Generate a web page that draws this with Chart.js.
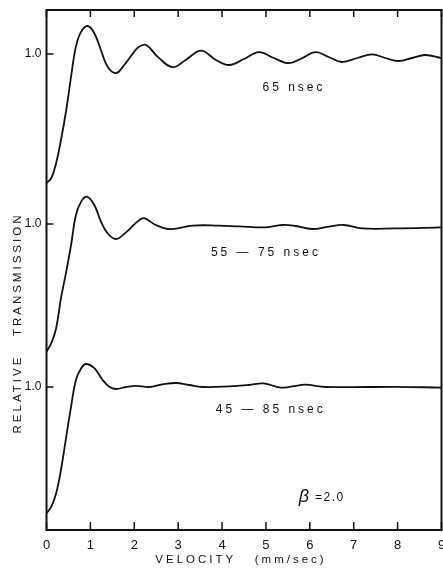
<!DOCTYPE html>
<html><head><meta charset="utf-8">
<script src="https://cdn.jsdelivr.net/npm/chart.js@4/dist/chart.umd.min.js"></script>
<style>html,body{margin:0;padding:0;background:#fff;overflow:hidden}</style>
</head><body>
<canvas id="c" width="443" height="571" style="display:block;width:443px;height:571px"></canvas>
<script>
// ---- data (relative transmission vs velocity, mm/sec) ----
const velocity65 = [0,0.11,0.22,0.33,0.45,0.56,0.67,0.79,0.94,1.09,1.24,1.39,1.58,1.77,1.96,2.1,2.27,2.53,2.87,3.17,3.52,3.86,4.16,4.5,4.84,5.18,5.52,5.83,6.13,6.43,6.73,7.08,7.42,7.72,8.02,8.33,8.63,9.0];
const trans65    = [0.354,0.38,0.455,0.57,0.72,0.887,1.037,1.112,1.14,1.104,1.02,0.937,0.904,0.945,1.0,1.035,1.045,0.987,0.934,0.97,1.017,0.97,0.945,0.975,1.009,0.98,0.954,0.98,1.009,0.985,0.96,0.98,0.998,0.98,0.965,0.98,0.995,0.979];

const velocity55 = [0,0.11,0.22,0.33,0.45,0.56,0.67,0.79,0.92,1.09,1.24,1.39,1.58,1.81,2.0,2.12,2.23,2.49,2.83,3.33,3.93,4.39,5.0,5.37,5.67,6.05,6.43,6.77,7.19,7.95,9.0];
const trans55    = [0.362,0.404,0.479,0.629,0.762,0.895,1.045,1.112,1.137,1.095,1.012,0.954,0.925,0.958,0.998,1.02,1.029,0.995,0.974,0.992,0.992,0.988,0.983,0.995,0.99,0.975,0.987,0.995,0.978,0.978,0.983];

const velocity45 = [0,0.11,0.22,0.33,0.45,0.56,0.67,0.79,0.90,1.09,1.28,1.43,1.58,1.81,2.04,2.34,2.64,2.95,3.25,3.55,4.16,4.61,4.95,5.33,5.6,5.9,6.36,7.95,9.0];
const trans45    = [0.369,0.402,0.469,0.585,0.752,0.902,1.035,1.094,1.115,1.094,1.035,1.0015,0.99,1.0,1.006,1.0,1.013,1.02,1.01,1.0,1.003,1.01,1.018,0.997,1.003,1.012,1.0,1.001,0.997];

const curveLabels  = ['65 nsec', '55 \u2014 75 nsec', '45 \u2014 85 nsec'];
const curveOffsets = [1.38, 0.53, -0.285];   // vertical stacking of the three curves
const xTickValues  = [0,1,2,3,4,5,6,7,8,9];
const yTickLabel   = '1.0';
const betaLabel    = '=2.0';

// ---- layout/style (not data) ----
const INK = '#111';
const FONT = '"Liberation Sans", Arial, sans-serif';
const labelPos = [{v:5.64, y:2.21}, {v:5.0, y:1.385}, {v:5.11, y:0.60}];
const betaPos = {v:5.75, y:0.165};

function series(vs, ts, off){ return vs.map((v,i)=>({x:v, y:ts[i]+off})); }

const datasets = [
  [velocity65, trans65],
  [velocity55, trans55],
  [velocity45, trans45]
].map((p,i)=>({
  label: curveLabels[i],
  data: series(p[0], p[1], curveOffsets[i]),
  borderColor: INK, borderWidth: 1.8, pointRadius: 0,
  tension: 0.4, fill: false, clip: false
}));

const framePlugin = {
  id: 'frame',
  afterDatasetsDraw(chart){
    const {ctx, chartArea: a, scales: {x, y}} = chart;
    ctx.save();
    ctx.strokeStyle = INK;
    ctx.lineWidth = 2;
    ctx.strokeRect(a.left, a.top, a.right - a.left, a.bottom - a.top);
    ctx.lineWidth = 1.5;
    ctx.beginPath();
    xTickValues.forEach(v=>{
      const px = x.getPixelForValue(v);
      ctx.moveTo(px, a.bottom); ctx.lineTo(px, a.bottom - 8);
      ctx.moveTo(px, a.top); ctx.lineTo(px, a.top + 7);
    });
    y.ticks.forEach(t=>{
      const py = y.getPixelForValue(t.value);
      ctx.moveTo(a.left, py); ctx.lineTo(a.left + 7, py);
    });
    ctx.stroke();

    ctx.fillStyle = INK;
    ctx.textBaseline = 'middle';
    ctx.textAlign = 'center';
    // curve labels
    ctx.font = '12px ' + FONT;
    ctx.letterSpacing = '3px';
    curveLabels.forEach((s,i)=>{
      ctx.fillText(s, x.getPixelForValue(labelPos[i].v), y.getPixelForValue(labelPos[i].y));
    });
    // beta label
    ctx.letterSpacing = '0px';
    ctx.textAlign = 'left';
    const bx = x.getPixelForValue(betaPos.v), by = y.getPixelForValue(betaPos.y);
    ctx.font = 'italic 18px ' + FONT;
    ctx.fillText('\u03B2', bx, by);
    const bw = ctx.measureText('\u03B2').width;
    ctx.font = '12px ' + FONT;
    ctx.letterSpacing = '1.5px';
    ctx.fillText(' ' + betaLabel, bx + bw + 1, by + 1);

    // axis titles
    ctx.textAlign = 'center';
    ctx.font = '11.5px ' + FONT;
    ctx.letterSpacing = '3px';
    ctx.fillText('VELOCITY   (mm/sec)', (a.left + a.right)/2 - 3, 560);
    ctx.translate(18, 323);
    ctx.rotate(-Math.PI/2);
    ctx.fillText('RELATIVE   TRANSMISSION', 0, 0);
    ctx.restore();
  }
};

new Chart(document.getElementById('c'), {
  type: 'line',
  data: { datasets },
  options: {
    responsive: false, animation: false, devicePixelRatio: 1,
    layout: { padding: { top: 10, right: 1.5, left: 0, bottom: 0 } },
    plugins: { legend: {display:false}, tooltip: {enabled:false} },
    scales: {
      x: {
        type: 'linear', min: 0, max: 9,
        afterBuildTicks: s => { s.ticks = xTickValues.map(v=>({value:v})); },
        ticks: { color: INK, padding: 8, maxRotation: 0, autoSkip: false,
                 font: { family: FONT, size: 13 } },
        grid: { display: false, drawTicks: false },
        border: { display: false },
        afterFit: s => { s.height = 41; s.paddingLeft = 0; s.paddingRight = 0; }
      },
      y: {
        type: 'linear', min: 0, max: 2.6,
        afterBuildTicks: s => { s.ticks = curveOffsets.map(o=>({value:o+1})); },
        ticks: { color: INK, padding: 5, callback: () => yTickLabel,
                 font: { family: FONT, size: 12 } },
        grid: { display: false, drawTicks: false },
        border: { display: false },
        afterFit: s => { s.width = 46.5; s.paddingTop = 0; s.paddingBottom = 0; }
      }
    }
  },
  plugins: [framePlugin]
});
</script>
</body></html>
